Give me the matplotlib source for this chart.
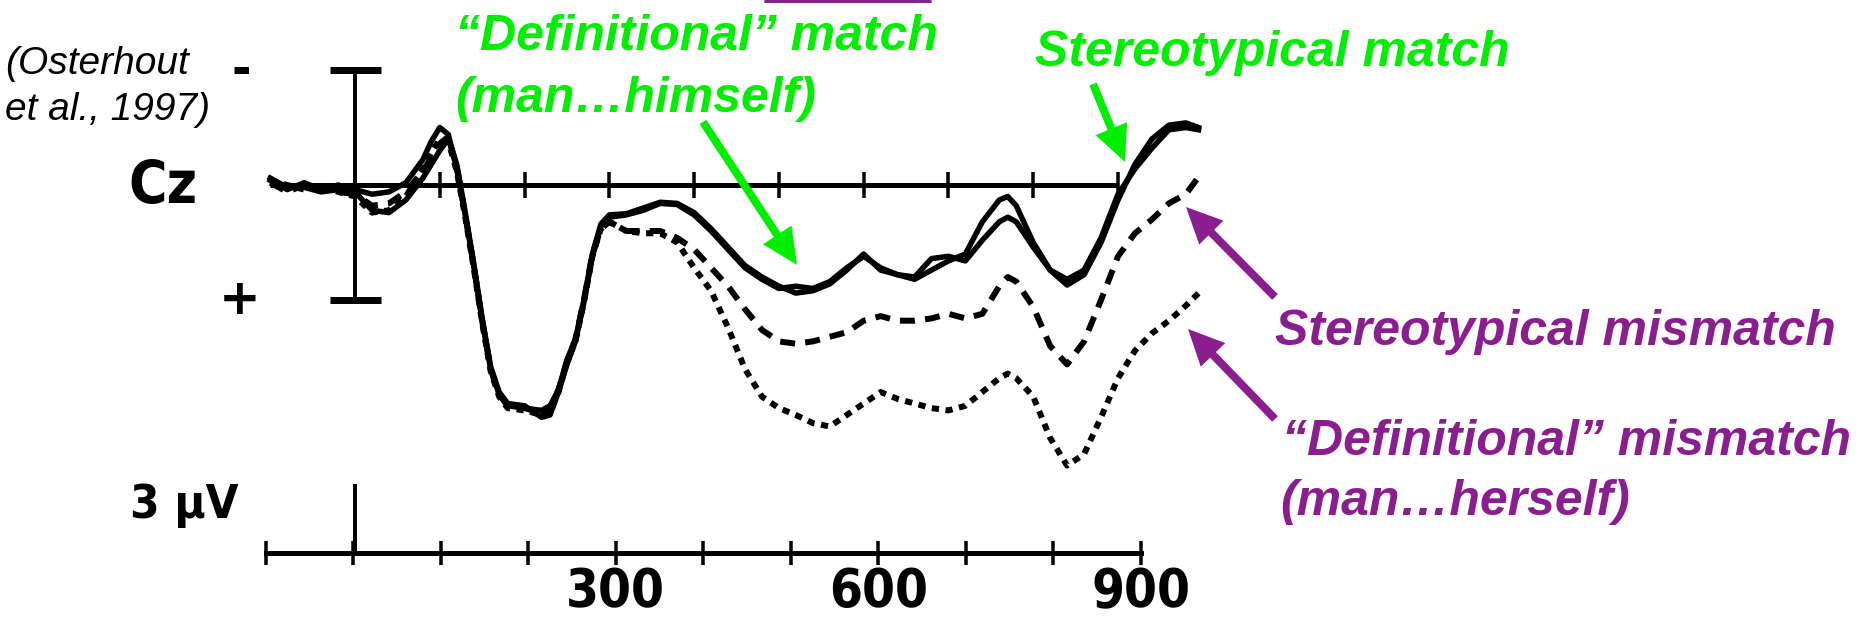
import matplotlib
matplotlib.use("Agg")
import matplotlib.pyplot as plt
from matplotlib.patches import FancyArrowPatch, ArrowStyle
from matplotlib.lines import Line2D

W, H = 1872, 626
DPI = 100

# ---------------- data (ms, microvolts; negative plotted up) ----------------
time_ms = [-100, -80, -60, -40, -20, 0, 20, 40, 60, 80, 90, 100, 110, 120, 130,
           140, 150, 160, 170, 180, 200, 220, 230, 240, 250, 260, 270, 280, 290,
           300, 320, 340, 360, 380, 400, 420, 440, 460, 480, 500, 520, 540, 560,
           580, 600, 620, 640, 660, 680, 700, 720, 740, 760, 770, 780, 800, 820,
           840, 860, 880, 900, 920, 940, 960, 980, 995]

definitional_match = [-0.2, 0.2, -0.1, 0.2, 0.0, 0.2, 0.4, 0.3, -0.1, -1.1, -1.9, -2.5, -2.2, -0.7, 1.3,
                      3.5, 5.9, 8.0, 9.1, 9.6, 9.7, 9.8, 9.6, 8.9, 7.6, 6.7, 5.0, 3.0, 1.7,
                      1.3, 1.25, 1.0, 0.75, 0.8, 1.2, 1.9, 2.7, 3.5, 4.0, 4.4, 4.7, 4.6, 4.3,
                      3.7, 3.0, 3.7, 3.9, 4.1, 3.7, 3.3, 3.0, 1.6, 0.65, 0.5, 0.9, 2.5, 3.7,
                      4.35, 3.9, 2.5, 0.65, -0.9, -2.0, -2.6, -2.7, -2.5]

stereotypical_match = [-0.3, 0.1, 0.1, 0.3, 0.2, 0.3, 1.1, 1.2, 0.65, -0.3, -0.9, -1.5, -2.0, -0.9, 1.2,
                       3.4, 5.8, 7.9, 9.0, 9.5, 9.6, 10.1, 10.0, 9.0, 7.8, 6.8, 5.1, 3.1, 1.8,
                       1.4, 1.3, 1.1, 0.8, 0.85, 1.3, 2.0, 2.8, 3.6, 4.1, 4.5, 4.4, 4.5, 4.2,
                       3.6, 3.1, 3.6, 3.9, 4.0, 3.2, 3.1, 3.3, 2.4, 1.6, 1.4, 1.6, 2.7, 3.7,
                       4.1, 3.7, 2.3, 0.4, -0.7, -1.6, -2.4, -2.5, -2.4]

stereotypical_mismatch = [-0.1, 0.3, 0.0, 0.1, 0.3, 0.4, 0.9, 0.8, 0.3, -0.6, -1.2, -1.8, -2.1, -0.8, 1.3,
                          3.5, 5.9, 8.0, 9.1, 9.6, 9.7, 9.9, 9.8, 8.9, 7.7, 6.7, 5.0, 3.0, 1.9,
                          1.6, 2.0, 2.0, 2.0, 2.3, 2.8, 3.6, 4.4, 5.4, 6.3, 6.8, 6.9, 6.8, 6.6,
                          6.4, 5.9, 5.7, 5.9, 5.9, 5.8, 5.6, 5.8, 5.6, 4.4, 4.0, 4.2, 5.3, 7.0,
                          7.8, 6.8, 5.0, 3.1, 2.1, 1.5, 0.8, 0.4, -0.35]

definitional_mismatch = [-0.2, 0.0, 0.2, 0.0, 0.3, 0.5, 1.2, 1.1, 0.5, -0.7, -1.4, -2.0, -1.9, -0.6, 1.4,
                         3.6, 6.0, 8.1, 9.2, 9.7, 9.8, 10.0, 9.9, 9.0, 7.7, 6.8, 5.1, 3.1, 1.9,
                         1.6, 2.0, 2.1, 2.1, 2.5, 3.6, 4.6, 6.2, 8.0, 9.2, 9.7, 10.0, 10.35, 10.5,
                         10.0, 9.5, 9.0, 9.3, 9.5, 9.7, 9.8, 9.6, 9.0, 8.4, 8.2, 8.4, 9.2, 11.0,
                         12.2, 11.7, 10.1, 8.4, 7.2, 6.45, 5.9, 5.25, 4.7]

baseline_ticks = [100, 200, 300, 400, 500, 600, 700, 800, 900]
time_axis_ticks = [-100, 0, 100, 200, 300, 400, 500, 600, 700, 800, 900]
time_axis_labels = ["", "", "", "", "300", "", "", "600", "", "", "900"]
scale_half_uv = 5      # I-bar half height
calib_uv = 3           # calibration bar

GREEN = "#00EE00"
PURPLE = "#8B1E8E"
NARROW = ["DejaVu Sans"]
ARIAL = ["Liberation Sans", "DejaVu Sans"]

fig = plt.figure(figsize=(W / DPI, H / DPI), dpi=DPI)
fig.patch.set_facecolor("white")

def fx(x):
    return x / W

def fy(y):
    return 1 - y / H

PX = 72 / DPI   # points per pixel

# ---------------- ERP axes ----------------
ax = fig.add_axes([253.3 / W, 73 / H, 974.9 / W, 510.6 / H])
ax.set_xlim(-120, 1030)
ax.set_ylim(16, -6.2)
ax.axis("off")

# baseline with ticks
ax.plot([-100, 900], [0, 0], color="black", lw=5 * PX, solid_capstyle="butt")
ax.vlines(baseline_ticks, -0.55, 0.55, color="black", lw=3.5 * PX)

# I-bar
ax.vlines([0], -scale_half_uv, scale_half_uv, color="black", lw=4 * PX)
ax.hlines([-scale_half_uv, scale_half_uv], -30, 31, color="black", lw=7 * PX)

# calibration bar (3 uV)
ax.vlines([0], 16 - calib_uv, 16, color="black", lw=4 * PX, clip_on=False)

# curves
ax.plot(time_ms, definitional_match, color="black", lw=5.5 * PX, solid_joinstyle="round")
ax.plot(time_ms, stereotypical_match, color="black", lw=5.5 * PX, solid_joinstyle="round")
ax.plot(time_ms, stereotypical_mismatch, color="black", lw=6 * PX,
        linestyle=(0, (2.5, 1.7)))
ax.plot(time_ms, definitional_mismatch, color="black", lw=6 * PX,
        linestyle=(0, (1.2, 1.1)))

# ---------------- bottom time axis ----------------
axb = fig.add_axes([248 / W, 73 / H, 980.6 / W, 60 / H])
axb.set_xlim(-120, 1000)
axb.set_ylim(0, 1)
axb.patch.set_alpha(0)
for s in ["top", "left", "right"]:
    axb.spines[s].set_visible(False)
axb.spines["bottom"].set_linewidth(5 * PX)
axb.spines["bottom"].set_bounds(-100, 900)
axb.set_yticks([])
axb.set_xticks(time_axis_ticks)
axb.set_xticklabels(time_axis_labels, fontfamily=NARROW, fontweight="bold",
                    fontsize=38, fontstretch="condensed")
axb.tick_params(axis="x", direction="inout", length=24 * PX, width=3.5 * PX, pad=1)

# ---------------- labels ----------------
fig.text(fx(163), fy(187), "Cz", family=NARROW, fontweight="bold", fontsize=42,
         fontstretch="condensed", ha="center", va="center")
fig.text(fx(184), fy(505), "3 µV", family=NARROW, fontweight="bold", fontsize=34,
         fontstretch="condensed", ha="center", va="center")
fig.text(fx(241), fy(72), "-", family=NARROW, fontweight="bold", fontsize=34,
         ha="center", va="center")
fig.text(fx(240), fy(300), "+", family=NARROW, fontweight="bold", fontsize=36,
         ha="center", va="center")

fig.text(fx(5), fy(74), "(Osterhout", family=ARIAL, style="italic", fontsize=28,
         ha="left", va="baseline")
fig.text(fx(5), fy(120), "et al., 1997)", family=ARIAL, style="italic", fontsize=28,
         ha="left", va="baseline")

fig.text(fx(455), fy(50), "“Definitional” match", family=ARIAL, style="italic",
         fontweight="bold", fontsize=36, color=GREEN, ha="left", va="baseline")
fig.text(fx(455), fy(112), "(man…himself)", family=ARIAL, style="italic",
         fontweight="bold", fontsize=36, color=GREEN, ha="left", va="baseline")
fig.text(fx(1035), fy(66), "Stereotypical match", family=ARIAL, style="italic",
         fontweight="bold", fontsize=36, color=GREEN, ha="left", va="baseline")

fig.text(fx(1275), fy(345), "Stereotypical mismatch", family=ARIAL, style="italic",
         fontweight="bold", fontsize=36, color=PURPLE, ha="left", va="baseline")
fig.text(fx(1282), fy(455), "“Definitional” mismatch", family=ARIAL, style="italic",
         fontweight="bold", fontsize=36, color=PURPLE, ha="left", va="baseline")
fig.text(fx(1280), fy(515), "(man…herself)", family=ARIAL, style="italic",
         fontweight="bold", fontsize=36, color=PURPLE, ha="left", va="baseline")

# ---------------- arrows ----------------
def arrow(x0, y0, x1, y1, color):
    st = ArrowStyle("simple", head_length=36 * PX, head_width=34 * PX, tail_width=8 * PX)
    a = FancyArrowPatch((fx(x0), fy(y0)), (fx(x1), fy(y1)), transform=fig.transFigure,
                        arrowstyle=st, mutation_scale=1, color=color, lw=0,
                        shrinkA=0, shrinkB=0)
    fig.add_artist(a)

arrow(703, 122, 797, 265, GREEN)
arrow(1093, 84, 1125, 162, GREEN)
arrow(1275, 297, 1186, 207, PURPLE)
arrow(1275, 419, 1188, 329, PURPLE)

# partial purple shape at the top edge
fig.add_artist(Line2D([fx(765), fx(930)], [fy(0.5), fy(0.5)], transform=fig.transFigure,
                      color=PURPLE, lw=3 * PX, solid_capstyle="round"))

fig.savefig("out.png", dpi=DPI, facecolor="white")
